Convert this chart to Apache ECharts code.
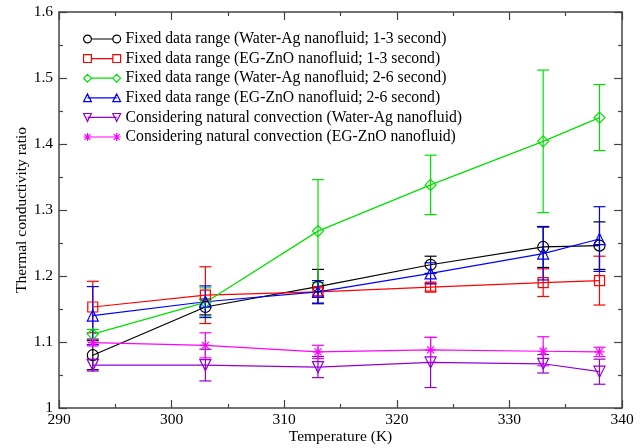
<!DOCTYPE html>
<html>
<head>
<meta charset="utf-8">
<script src="https://cdn.jsdelivr.net/npm/echarts@6/dist/echarts.min.js"></script>
<style>
  html, body { margin: 0; padding: 0; background: #fff; }
  #chart { width: 644px; height: 448px; }
</style>
</head>
<body>
<div id="chart"></div>
<script>
// Temperatures (K) at which the ratio was measured
const temps = [293, 303, 313, 323, 333, 338];

// Thermal conductivity ratio and half-width of the error bar for each case
const agShort = [1.080, 1.153, 1.184, 1.217, 1.244, 1.246];
const agShortErr = [0.022, 0.012, 0.026, 0.013, 0.031, 0.036];

const znShort = [1.153, 1.171, 1.176, 1.183, 1.190, 1.193];
const znShortErr = [0.039, 0.043, 0.006, 0.006, 0.021, 0.037];

const agLong = [1.112, 1.160, 1.268, 1.338, 1.404, 1.440];
const agLongErr = [0.007, 0.022, 0.078, 0.045, 0.108, 0.050];

const znLong = [1.140, 1.161, 1.176, 1.204, 1.234, 1.256];
const znLongErr = [0.044, 0.024, 0.017, 0.016, 0.040, 0.049];

const agConv = [1.065, 1.065, 1.062, 1.069, 1.067, 1.055];
const agConvErr = [0.009, 0.024, 0.016, 0.038, 0.014, 0.019];

const znConv = [1.099, 1.095, 1.085, 1.088, 1.086, 1.085];
const znConvErr = [0.005, 0.019, 0.010, 0.019, 0.022, 0.007];

const names = [
  'Fixed data range (Water-Ag nanofluid; 1-3 second)',
  'Fixed data range (EG-ZnO nanofluid; 1-3 second)',
  'Fixed data range (Water-Ag nanofluid; 2-6 second)',
  'Fixed data range (EG-ZnO nanofluid; 2-6 second)',
  'Considering natural convection (Water-Ag nanofluid)',
  'Considering natural convection (EG-ZnO nanofluid)'
];

const colors = ['#000000', '#ff0000', '#00e000', '#0000ff', '#9400d3', '#ff00ff'];

// Marker outlines
const SYM_CIRCLE = 'path://M0,5A5,5 0 1,1 10,5A5,5 0 1,1 0,5Z';
const SYM_SQUARE = 'path://M0,0L10,0L10,10L0,10Z';
const SYM_DIAMOND = 'path://M5,0L10,5L5,10L0,5Z';
const SYM_TRI = 'path://M5,0L10,9L0,9Z';
const SYM_TRI_DOWN = 'path://M0,0L10,0L5,9Z';
const SYM_STAR = 'path://M5,0L5,10M0,5L10,5M1.5,1.5L8.5,8.5M8.5,1.5L1.5,8.5';
const symbols = [SYM_CIRCLE, SYM_SQUARE, SYM_DIAMOND, SYM_TRI, SYM_TRI_DOWN, SYM_STAR];
const symSizes = [11, 10, 11, 11, 11, 10];

// Legend icons: marker - line - marker
const ICON_CIRCLE = 'path://M0,5A4,4 0 1,1 8,5A4,4 0 1,1 0,5ZM8,5L30,5M30,5A4,4 0 1,1 38,5A4,4 0 1,1 30,5Z';
const ICON_SQUARE = 'path://M0,1L8,1L8,9L0,9ZM8,5L30,5M30,1L38,1L38,9L30,9Z';
const ICON_DIAMOND = 'path://M4,1L8,5L4,9L0,5ZM8,5L30,5M34,1L38,5L34,9L30,5Z';
const ICON_TRI = 'path://M4,1L8,9L0,9ZM4,5L34,5M34,1L38,9L30,9Z';
const ICON_TRI_DOWN = 'path://M0,1L8,1L4,9ZM4,5L34,5M30,1L38,1L34,9Z';
const ICON_STAR = 'path://M4,1L4,9M0,5L8,5M1,2L7,8M7,2L1,8M4,5L34,5M34,1L34,9M30,5L38,5M31,2L37,8M37,2L31,8M0,0L0,0M38,10L38,10';
const icons = [ICON_CIRCLE, ICON_SQUARE, ICON_DIAMOND, ICON_TRI, ICON_TRI_DOWN, ICON_STAR];

const values = [agShort, znShort, agLong, znLong, agConv, znConv];
const errors = [agShortErr, znShortErr, agLongErr, znLongErr, agConvErr, znConvErr];

const serif = 'Liberation Serif, Times New Roman, serif';

function errorBarRenderer(color) {
  return function (params, api) {
    const x = api.value(0);
    const lo = api.coord([x, api.value(1)]);
    const hi = api.coord([x, api.value(2)]);
    const hw = 6;
    const style = { stroke: color, lineWidth: 1.2, fill: null };
    return {
      type: 'group',
      children: [
        { type: 'line', shape: { x1: lo[0], y1: lo[1], x2: hi[0], y2: hi[1] }, style: style },
        { type: 'line', shape: { x1: lo[0] - hw, y1: lo[1], x2: lo[0] + hw, y2: lo[1] }, style: style },
        { type: 'line', shape: { x1: hi[0] - hw, y1: hi[1], x2: hi[0] + hw, y2: hi[1] }, style: style }
      ]
    };
  };
}

const series = [];
values.forEach(function (vals, i) {
  series.push({
    name: names[i] + ' error',
    type: 'custom',
    renderItem: errorBarRenderer(colors[i]),
    data: temps.map(function (t, k) { return [t, vals[k] - errors[i][k], vals[k] + errors[i][k]]; }),
    encode: { x: 0, y: [1, 2] },
    z: 1,
    silent: true
  });
});
values.forEach(function (vals, i) {
  series.push({
    name: names[i],
    type: 'line',
    data: temps.map(function (t, k) { return [t, vals[k]]; }),
    symbol: symbols[i],
    symbolSize: symSizes[i],
    lineStyle: { color: colors[i], width: 1.2 },
    itemStyle: { color: 'rgba(255,255,255,0)', borderColor: colors[i], borderWidth: 1.2 },
    z: 2,
    animation: false
  });
});

const axisLine = { show: true, lineStyle: { color: '#444', width: 1.5 } };
const axisTick = { show: true, inside: true, length: 8, lineStyle: { color: '#444', width: 1.2 } };
const minorTick = { show: true, splitNumber: 2, length: 4, lineStyle: { color: '#444', width: 1.2 } };

const chart = echarts.init(document.getElementById('chart'), null, { renderer: 'canvas' });
chart.setOption({
  animation: false,
  backgroundColor: '#fff',
  grid: { left: 59, right: 22, top: 12, bottom: 40, containLabel: false, outerBoundsMode: 'none' },
  legend: {
    orient: 'vertical',
    left: 78,
    top: 26,
    itemWidth: 37,
    itemHeight: 10,
    itemGap: 3.6,
    selectedMode: false,
    textStyle: { fontFamily: serif, fontSize: 15.7, color: '#000', lineHeight: 16 },
    data: names.map(function (n, i) {
      return {
        name: n,
        icon: icons[i],
        itemStyle: { color: 'rgba(255,255,255,0)', borderColor: colors[i], borderWidth: 1.2 }
      };
    })
  },
  xAxis: [
    {
      type: 'value', min: 290, max: 340, interval: 10,
      name: 'Temperature (K)', nameLocation: 'middle', nameGap: 21, nameMoveOverlap: false,
      nameTextStyle: { fontFamily: serif, fontSize: 15.5, color: '#000' },
      axisLine: axisLine, axisTick: axisTick, minorTick: minorTick,
      axisLabel: { fontFamily: serif, fontSize: 15.5, color: '#000', margin: 4 },
      splitLine: { show: false }
    },
    {
      type: 'value', position: 'top', min: 290, max: 340, interval: 10,
      axisLine: axisLine, axisTick: axisTick, minorTick: minorTick,
      axisLabel: { show: false }, splitLine: { show: false }
    }
  ],
  yAxis: [
    {
      type: 'value', min: 1, max: 1.6, interval: 0.1,
      name: 'Thermal conductivity ratio', nameLocation: 'middle', nameGap: 29, nameMoveOverlap: false,
      nameTextStyle: { fontFamily: serif, fontSize: 15.5, color: '#000' },
      axisLine: axisLine, axisTick: axisTick, minorTick: minorTick,
      axisLabel: { fontFamily: serif, fontSize: 15.5, color: '#000', margin: 6 },
      splitLine: { show: false }
    },
    {
      type: 'value', position: 'right', min: 1, max: 1.6, interval: 0.1,
      axisLine: axisLine, axisTick: axisTick, minorTick: minorTick,
      axisLabel: { show: false }, splitLine: { show: false }
    }
  ],
  series: series
});
</script>
</body>
</html>
